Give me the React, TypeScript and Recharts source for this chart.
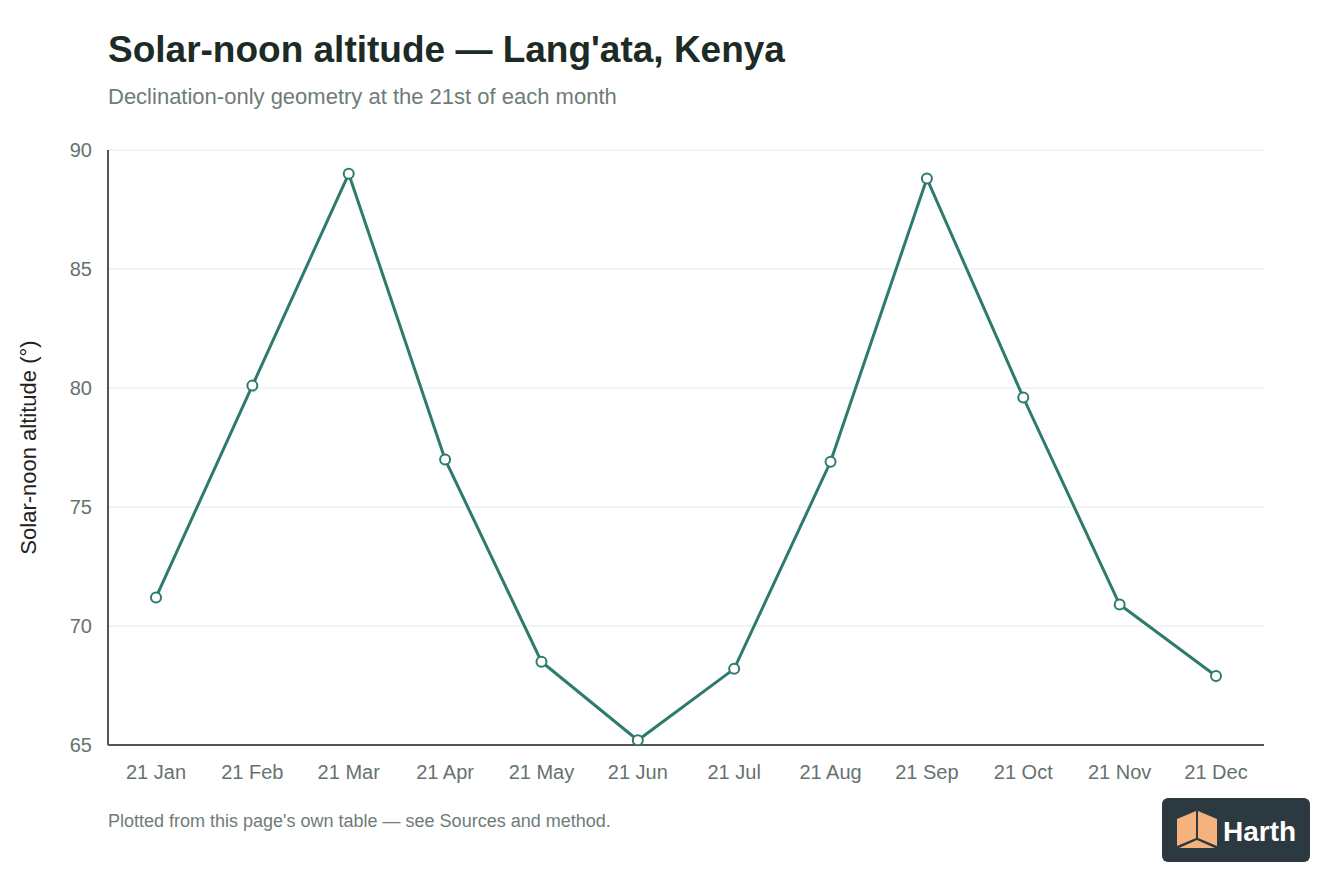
import React from 'react'
import {
  LineChart,
  Line,
  XAxis,
  YAxis,
  CartesianGrid,
} from 'recharts'

const months = [
  '21 Jan', '21 Feb', '21 Mar', '21 Apr', '21 May', '21 Jun',
  '21 Jul', '21 Aug', '21 Sep', '21 Oct', '21 Nov', '21 Dec',
]
const altitude = [71.2, 80.1, 89.0, 77.0, 68.5, 65.2, 68.2, 76.9, 88.8, 79.6, 70.9, 67.9]
const yTicks = [65, 70, 75, 80, 85, 90]

const data = months.map((m, i) => ({ month: m, altitude: altitude[i] }))

const FONT = '"Liberation Sans", Arial, Helvetica, sans-serif'
const LINE = '#2e7b6e'

const HarthLogo = () => (
  <svg width={148} height={64} style={{ position: 'absolute', left: 1162, top: 798 }}>
    <rect x={0} y={0} width={148} height={64} rx={6} fill="#2c3940" />
    <polygon points="15,21 34,13 34,40 15,48" fill="#f5b27c" />
    <polygon points="36,13 55,21 55,48 36,40" fill="#f5b27c" />
    <polygon points="35,42 17,50 53,50" fill="#f5b27c" />
    <text
      x={61}
      y={43}
      fill="#ffffff"
      fontFamily={FONT}
      fontWeight={700}
      fontSize={28}
    >
      Harth
    </text>
  </svg>
)

export default function App() {
  return (
    <div
      style={{
        position: 'absolute',
        left: 0,
        top: 0,
        width: 1344,
        height: 896,
        background: '#fff',
        fontFamily: FONT,
      }}
    >
      <div
        style={{
          position: 'absolute',
          left: 108,
          top: 29,
          fontSize: 37,
          fontWeight: 700,
          color: '#1c2b26',
          whiteSpace: 'nowrap',
        }}
      >
        Solar-noon altitude — Lang'ata, Kenya
      </div>
      <div
        style={{
          position: 'absolute',
          left: 108,
          top: 84,
          fontSize: 22,
          color: '#6e7c78',
          whiteSpace: 'nowrap',
        }}
      >
        Declination-only geometry at the 21st of each month
      </div>

      <div style={{ position: 'absolute', left: 0, top: 0 }}>
        <LineChart
          width={1344}
          height={896}
          data={data}
          margin={{ top: 150, right: 80, bottom: 121, left: 48 }}
        >
          <CartesianGrid vertical={false} stroke="#e6e8e7" strokeWidth={1} />
          <XAxis
            dataKey="month"
            padding={{ left: 48, right: 48 }}
            tickLine={false}
            tickSize={0}
            tickMargin={20}
            axisLine={{ stroke: '#555', strokeWidth: 2 }}
            tick={{ fill: '#66726f', fontSize: 20, fontFamily: FONT }}
            interval={0}
          />
          <YAxis
            width={60}
            domain={[65, 90]}
            ticks={yTicks}
            tickLine={false}
            tickSize={0}
            tickMargin={16}
            axisLine={{ stroke: '#555', strokeWidth: 2 }}
            tick={{ fill: '#66726f', fontSize: 20, fontFamily: FONT }}
            label={{
              value: 'Solar-noon altitude (°)',
              angle: -90,
              position: 'insideLeft',
              offset: -20,
              style: { textAnchor: 'middle', fill: '#222', fontSize: 22, fontFamily: FONT },
            }}
          />
          <Line
            type="linear"
            dataKey="altitude"
            stroke={LINE}
            strokeWidth={3}
            dot={{ r: 5, fill: '#fff', stroke: LINE, strokeWidth: 2 }}
            activeDot={false}
            isAnimationActive={false}
          />
        </LineChart>
      </div>

      <div
        style={{
          position: 'absolute',
          left: 108,
          top: 811,
          fontSize: 18,
          color: '#6e7c78',
          whiteSpace: 'nowrap',
        }}
      >
        Plotted from this page's own table — see Sources and method.
      </div>

      <HarthLogo />
    </div>
  )
}
